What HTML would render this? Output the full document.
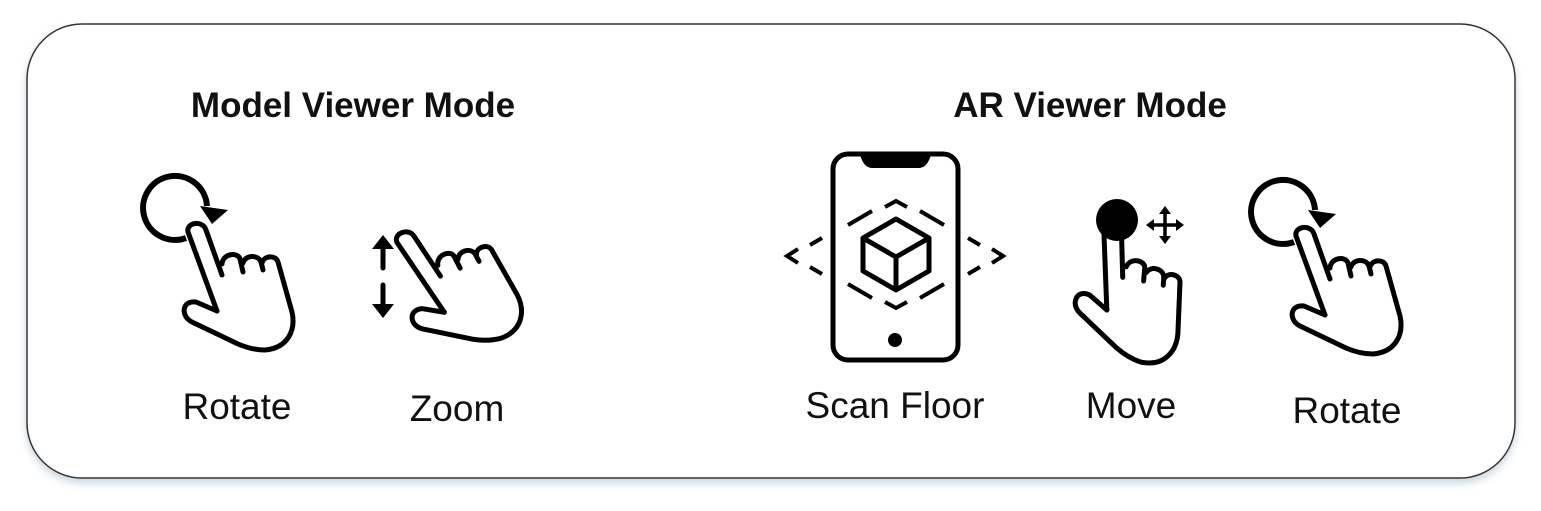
<!DOCTYPE html>
<html><head><meta charset="utf-8"><style>
html,body{margin:0;padding:0;background:#fff;width:1541px;height:511px;overflow:hidden}
svg{display:block}
text{font-family:"Liberation Sans",sans-serif;fill:#111}
</style></head><body>
<svg width="1541" height="511" viewBox="0 0 1541 511">
<defs>
<filter id="sh" x="-5%" y="-10%" width="110%" height="125%"><feDropShadow dx="0" dy="4" stdDeviation="4" flood-color="#8aa0b8" flood-opacity="0.45"/></filter>
<g id="hand" fill="none" stroke="#000" stroke-width="5" stroke-linejoin="round" stroke-linecap="round">
<path d="M217,311 L188,232 C186,222 203,220 206,230 L222,275"/>
<path d="M222,264 C223,253 238,252 240,259 L243,272"/>
<path d="M243,263 C245,255 258,254 261,262 L263,270"/>
<path d="M262,263 C264,255 276,255 278,262 L292,312 C296,330 288,348 265,350 C255,350 245,347 238,344 L192,322 C180,316 182,300 196,302 L217,311"/>
</g>
<g id="rot">
<path d="M186,238 A32,32 0 1 1 207,206" fill="none" stroke="#000" stroke-width="6"/>
<polygon points="200,206 228,210 212,224" fill="#000"/>
<use href="#hand"/>
</g>
</defs>
<rect x="27" y="24" width="1488" height="454" rx="55" fill="#fff" stroke="#333" stroke-width="1.5" filter="url(#sh)"/>
<text x="353" y="117" font-size="35" font-weight="bold" text-anchor="middle">Model Viewer Mode</text>
<text x="1090" y="117" font-size="35" font-weight="bold" text-anchor="middle">AR Viewer Mode</text>

<use href="#rot"/>
<use href="#rot" transform="translate(1108,4)"/>

<!-- zoom -->
<g>
<line x1="383" y1="245" x2="383" y2="268" stroke="#000" stroke-width="5" stroke-linecap="round"/>
<polygon points="372,249 383,235 394,249" fill="#000"/>
<line x1="383" y1="285" x2="383" y2="308" stroke="#000" stroke-width="5" stroke-linecap="round"/>
<polygon points="372,304 383,318 394,304" fill="#000"/>
<use href="#hand" transform="translate(224,-4) rotate(-14 240 300)"/>
</g>

<!-- move -->
<circle cx="1117" cy="220" r="21" fill="#000"/>
<use href="#hand" transform="translate(890,0) rotate(18 220 310)"/>
<g stroke="#000" stroke-width="3.5">
<line x1="1150" y1="225" x2="1180" y2="225"/><line x1="1165" y1="210" x2="1165" y2="240"/></g>
<g fill="#000"><polygon points="1146,225 1154,219 1154,231"/><polygon points="1184,225 1176,219 1176,231"/><polygon points="1165,206 1159,214 1171,214"/><polygon points="1165,244 1159,236 1171,236"/></g>

<!-- phone -->
<g stroke="#000" stroke-width="5" fill="none">
<rect x="833" y="154" width="125" height="206" rx="15"/>
</g>
<path d="M860,155 Q864,168 872,168 L919,168 Q927,168 931,155 Z" fill="#000"/>
<circle cx="895" cy="340" r="7" fill="#000"/>
<g stroke="#000" stroke-width="5" fill="none" stroke-linejoin="round">
<polygon points="896,219 929,238 929,271 896,290 863,271 863,238"/>
<polyline points="863,238 896,257 929,238"/><line x1="896" y1="257" x2="896" y2="290"/>
</g>
<g stroke="#000" stroke-width="4" fill="none">
<polyline points="885,207 896,201 907,207"/>
<line x1="848" y1="225" x2="872" y2="211"/><line x1="920" y1="211" x2="944" y2="225"/>
<line x1="848" y1="284" x2="872" y2="298"/><line x1="920" y1="298" x2="944" y2="284"/>
<polyline points="885,302 896,308 907,302"/>
<line x1="822" y1="238" x2="810" y2="245"/><polyline points="798,249 787,256 798,263"/><line x1="810" y1="267" x2="822" y2="274"/>
<line x1="968" y1="238" x2="980" y2="245"/><polyline points="992,249 1003,256 992,263"/><line x1="980" y1="267" x2="968" y2="274"/>
</g>

<g font-size="37" text-anchor="middle">
<text x="237" y="419">Rotate</text>
<text x="457" y="421">Zoom</text>
<text x="895" y="418">Scan Floor</text>
<text x="1131" y="418">Move</text>
<text x="1347" y="423">Rotate</text>
</g>
</svg>
</body></html>
